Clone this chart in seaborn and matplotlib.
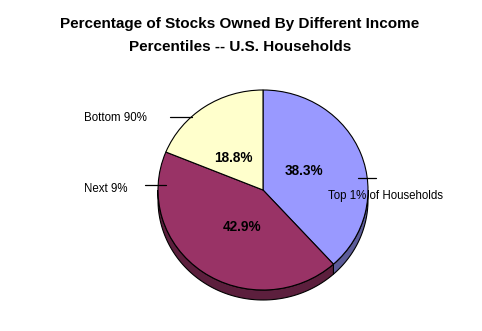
import numpy as np
import matplotlib
matplotlib.use("Agg")
import matplotlib.pyplot as plt
import seaborn as sns

# ---- data ----
categories = ["Top 1% of Households", "Next 9%", "Bottom 90%"]
shares = [38.3, 42.9, 18.8]
face_colors = ["#9999FF", "#993366", "#FFFFCC"]
side_colors = ["#5C5C99", "#5C1F3D", "#99997A"]
title_lines = ["Percentage of Stocks Owned By Different Income",
               "Percentiles -- U.S. Households"]

sns.set_theme(style="white")
plt.rcParams["font.family"] = ["Liberation Sans", "DejaVu Sans"]
plt.rcParams["text.color"] = "black"

W, H = 482, 331
YS = 1.05  # vertical squash (pie is slightly wider than tall)
fig = plt.figure(figsize=(W / 100, H / 100), dpi=100)
fig.patch.set_facecolor("white")
ax = fig.add_axes([0, 0, 1, 1])


def P(px, py):
    return px, (H - py) * YS


cx, cy = P(263, 190)
R = 105
depth = 10 * YS

# 3D side band (lower half only)
total = float(sum(shares))
start = 90.0
for val, sc in zip(shares, side_colors):
    a1 = start
    a2 = start - val / total * 360.0
    start = a2
    lo, hi = max(a2, -180.0), min(a1, 0.0)
    if lo >= hi:
        continue
    t = np.radians(np.linspace(hi, lo, 80))
    xs = cx + R * np.cos(t)
    ys = cy + R * np.sin(t)
    px = np.concatenate([xs, xs[::-1]])
    py = np.concatenate([ys, (ys - depth)[::-1]])
    ax.fill(px, py, facecolor=sc, edgecolor="black", linewidth=0.8, zorder=1)

wedges, texts, autotexts = ax.pie(
    shares, colors=face_colors, startangle=90, counterclock=False,
    center=(cx, cy), radius=R, frame=True, autopct="%.1f%%",
    wedgeprops=dict(edgecolor="black", linewidth=0.8),
    textprops=dict(fontsize=9.8, fontweight="bold", color="black"))
for w in wedges:
    w.set_zorder(2)

pct_pos = [(304, 171), (242, 227), (233, 158)]
for t, (x, y) in zip(autotexts, pct_pos):
    t.set_position(P(x, y))
    t.set_zorder(3)

ax.set_xlim(0, W)
ax.set_ylim(0, H * YS)
ax.set_aspect("auto")
ax.axis("off")

# outer labels with leader lines
label_pos = [(328, 196), (84, 189), (84, 118)]
lines = [((358, 178), (376, 178)), ((145, 185), (166, 185)), ((170, 117), (192, 117))]
for name, (lx, ly), (p1, p2) in zip(categories, label_pos, lines):
    x, y = P(lx, ly)
    ax.text(x, y, name, fontsize=8.3, ha="left", va="center", color="black", zorder=4)
    (x1, y1), (x2, y2) = P(*p1), P(*p2)
    ax.plot([x1, x2], [y1, y2], color="black", linewidth=0.9, zorder=4)

fig.text(240 / W, 1 - 24 / H, title_lines[0], ha="center", va="center",
         fontsize=11, fontweight="bold", color="black")
fig.text(240 / W, 1 - 47 / H, title_lines[1], ha="center", va="center",
         fontsize=11, fontweight="bold", color="black")

fig.savefig("out.png", dpi=100, facecolor="white")
